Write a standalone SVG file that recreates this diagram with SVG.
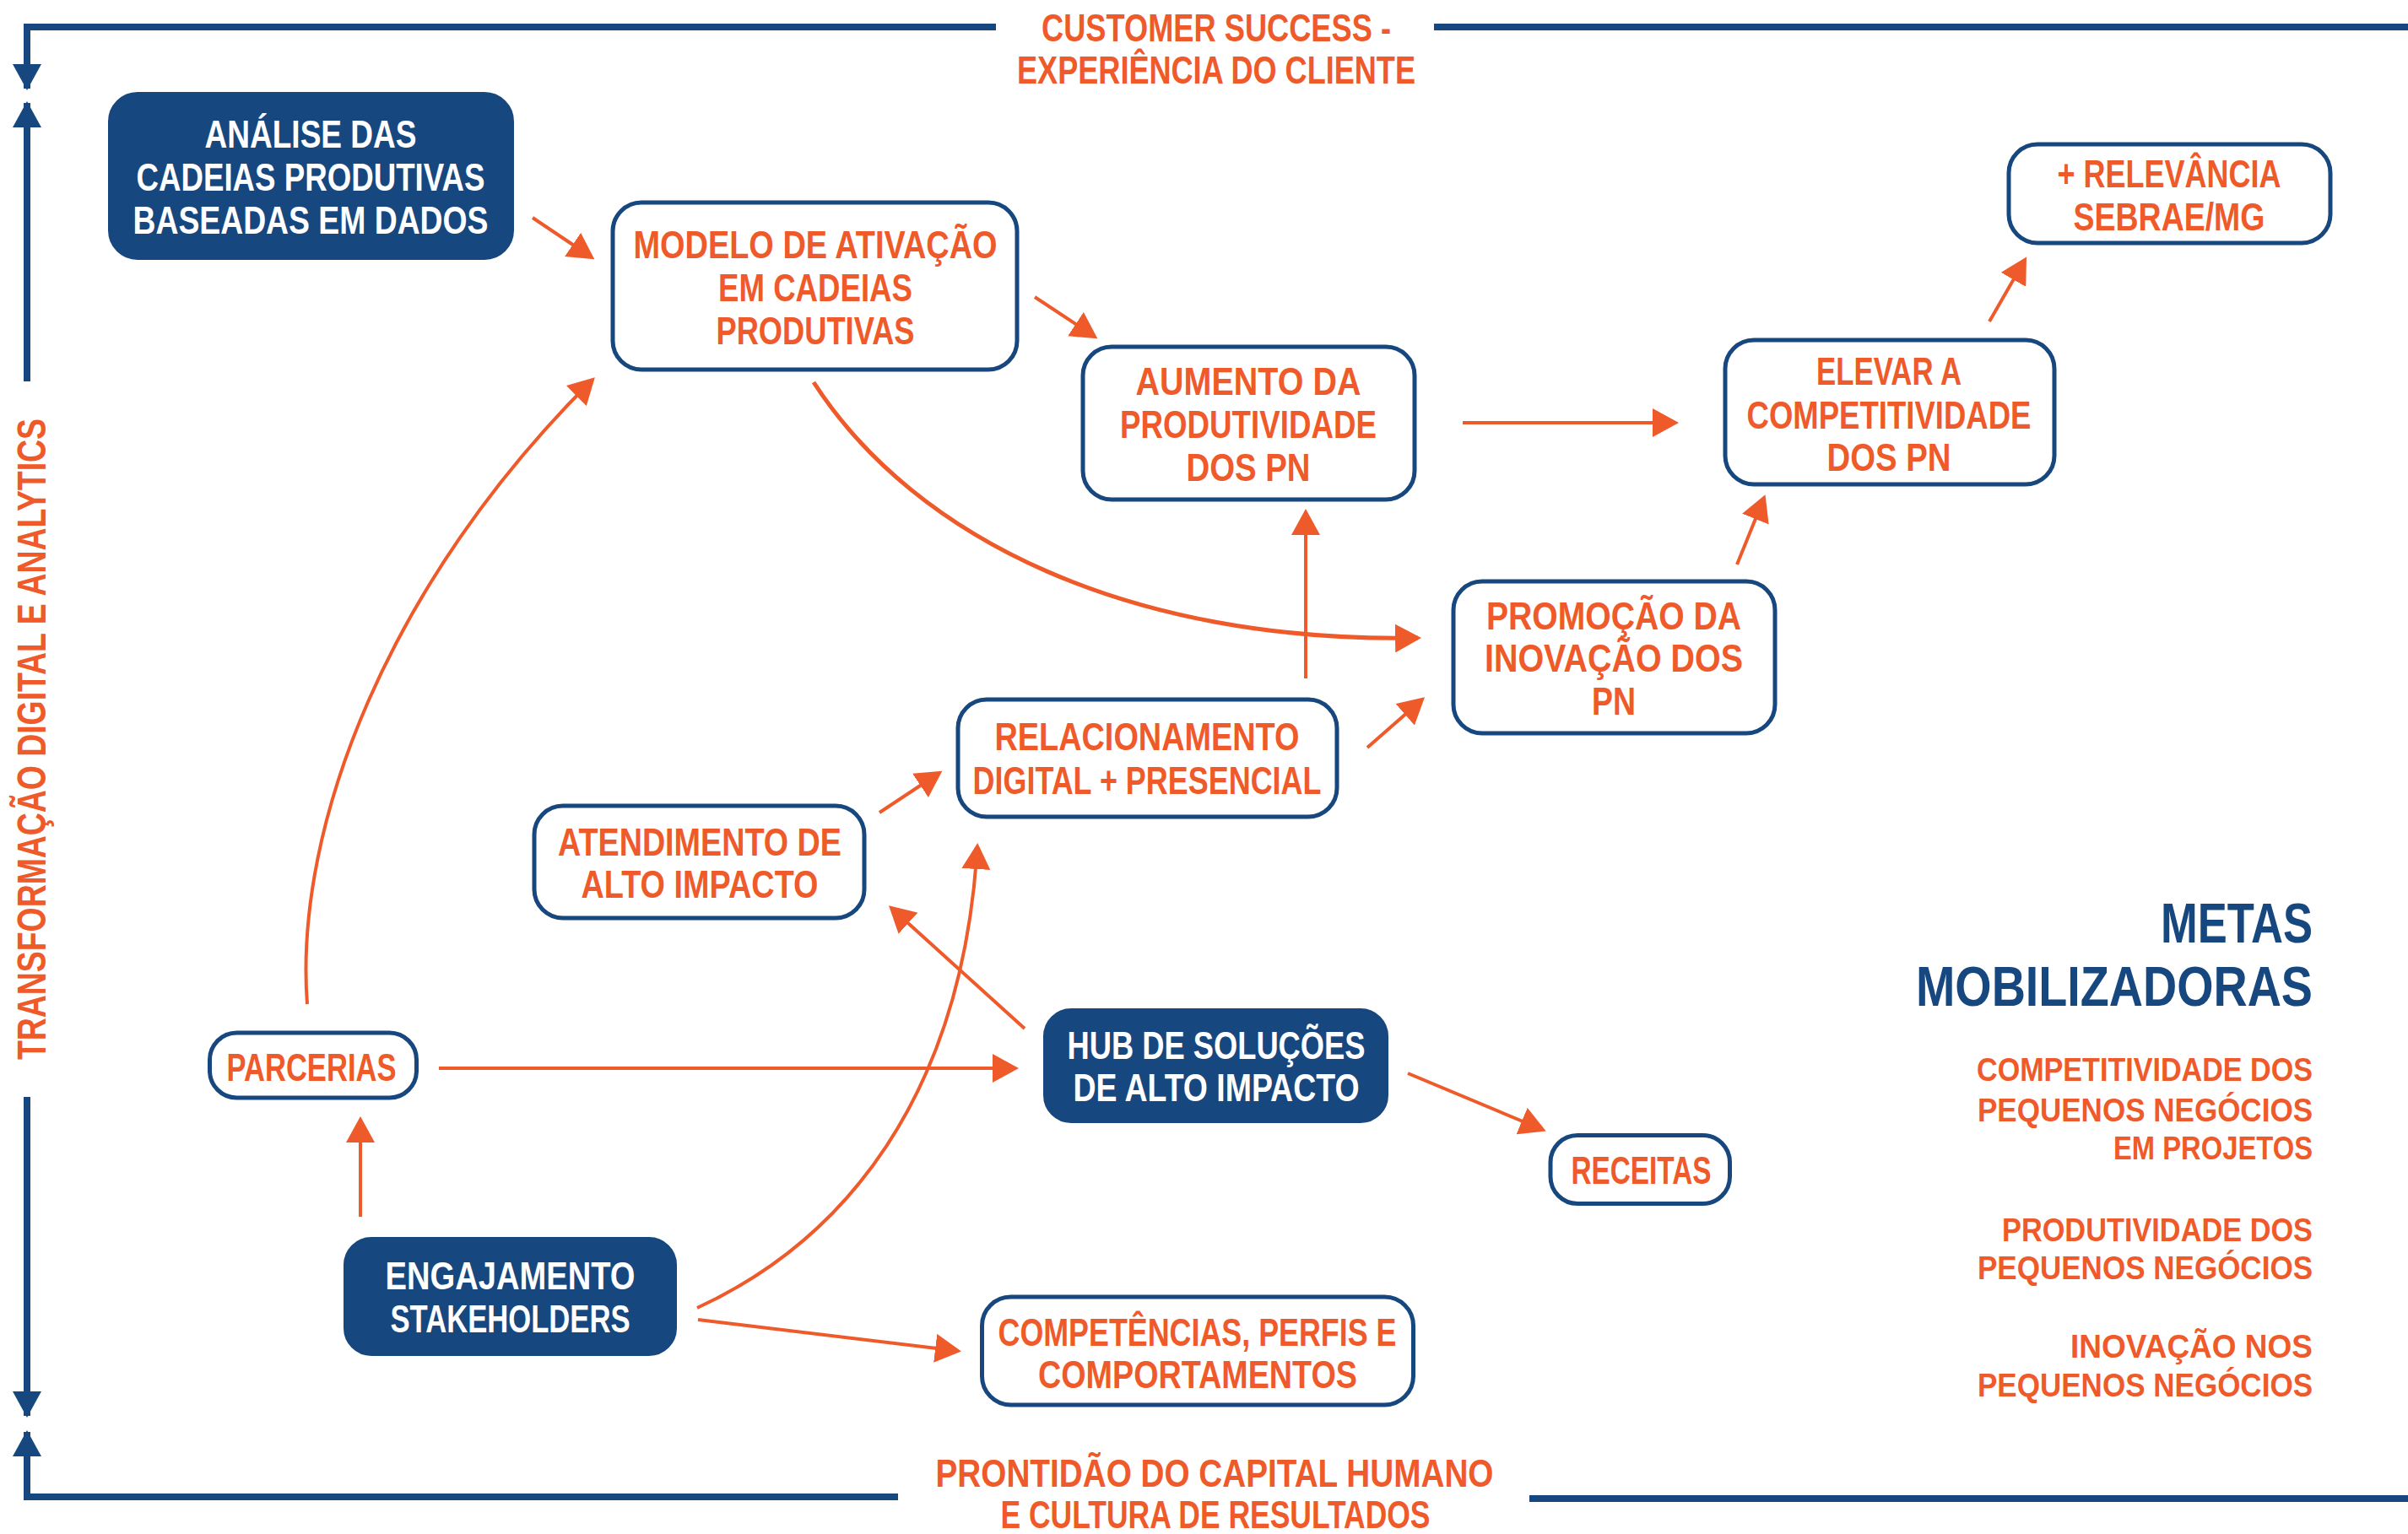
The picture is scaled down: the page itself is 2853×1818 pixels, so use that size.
<svg xmlns="http://www.w3.org/2000/svg" width="2853" height="1818" viewBox="0 0 2853 1818">
<style>
  .bg { fill: #ffffff; }
  .box { fill: #ffffff; stroke: #17477F; stroke-width: 5; }
  .boxf { fill: #17477F; stroke: #17477F; stroke-width: 2; }
  .t { font-family: "Liberation Sans", Arial, sans-serif; font-weight: bold; font-size: 46px; text-anchor: middle; fill: #EF5A2A; }
  .tw { font-family: "Liberation Sans", Arial, sans-serif; font-weight: bold; font-size: 46px; text-anchor: middle; fill: #ffffff; }
  .conn { fill: none; stroke: #EF5A2A; stroke-width: 4; marker-end: url(#ao); }
  .thick { stroke-width: 5; }
  .frame { fill: none; stroke: #17477F; stroke-width: 8; stroke-linejoin: miter; }
  .farrow { marker-end: url(#ab); }
  .side { font-family: "Liberation Sans", Arial, sans-serif; font-weight: bold; font-size: 49px; text-anchor: middle; fill: #EF5A2A; }
  .metas { font-family: "Liberation Sans", Arial, sans-serif; font-weight: bold; font-size: 67px; text-anchor: end; fill: #17477F; }
  .goal { font-family: "Liberation Sans", Arial, sans-serif; font-weight: bold; font-size: 39px; text-anchor: end; fill: #EF5A2A; }
</style>
<defs>
  <marker id="ao" markerUnits="userSpaceOnUse" markerWidth="32" markerHeight="34" refX="27" refY="17" orient="auto">
    <path d="M0,0 L31,17 L0,34 Z" fill="#EF5A2A"/>
  </marker>
  <marker id="ab" markerUnits="userSpaceOnUse" markerWidth="32" markerHeight="34" refX="29" refY="17" orient="auto">
    <path d="M0,0 L31,17 L0,34 Z" fill="#17477F"/>
  </marker>
</defs>
<rect class="bg" x="0" y="0" width="2853" height="1818"/>

<g id="frame">
  <path class="frame farrow" d="M1180,32 H32 V105"/>
  <path class="frame" d="M1699,32 H2853"/>
  <path class="frame farrow" d="M32,452 V122"/>
  <path class="frame farrow" d="M32,1300 V1678"/>
  <path class="frame farrow" d="M1064,1774 H32 V1697"/>
  <path class="frame" d="M1812,1776 H2853"/>
</g>

<g id="frame-labels">
  <text class="t" x="1441" y="49" textLength="414" lengthAdjust="spacingAndGlyphs">CUSTOMER SUCCESS -</text>
  <text class="t" x="1441" y="99" textLength="472" lengthAdjust="spacingAndGlyphs">EXPERIÊNCIA DO CLIENTE</text>
  <text class="t" x="1439" y="1762" textLength="661" lengthAdjust="spacingAndGlyphs">PRONTIDÃO DO CAPITAL HUMANO</text>
  <text class="t" x="1440" y="1811" textLength="509" lengthAdjust="spacingAndGlyphs">E CULTURA DE RESULTADOS</text>
  <text class="side" transform="translate(54,876) rotate(-90)" x="0" y="0" textLength="760" lengthAdjust="spacingAndGlyphs">TRANSFORMAÇÃO DIGITAL E ANALYTICS</text>
</g>

<g id="connectors">
  <path class="conn" d="M631,258 L701,305"/>
  <path class="conn" d="M1226,352 L1297,399"/>
  <path class="conn" d="M1733,501 L1985,501"/>
  <path class="conn" d="M2357,381 L2399,308"/>
  <path class="conn" d="M2058,669 L2090,590"/>
  <path class="conn thick" d="M964,453 C1085,640 1340,762 1680,756"/>
  <path class="conn" d="M1547,804 L1547,607"/>
  <path class="conn" d="M1620,886 L1685,829"/>
  <path class="conn" d="M1042,963 L1113,916"/>
  <path class="conn" d="M1214,1219 L1056,1076"/>
  <path class="conn" d="M520,1266 L1203,1266"/>
  <path class="conn" d="M364,1190 C348,980 460,690 702,450"/>
  <path class="conn" d="M427,1442 L427,1327"/>
  <path class="conn" d="M826,1550 C1000,1470 1140,1300 1158,1003"/>
  <path class="conn" d="M1668,1272 L1828,1339"/>
  <path class="conn" d="M827,1564 L1135,1601"/>
</g>

<g id="n-analise">
  <rect class="boxf" x="129" y="110" width="479" height="197" rx="34"/>
  <text class="tw" x="368" y="175" textLength="251" lengthAdjust="spacingAndGlyphs">ANÁLISE DAS</text>
  <text class="tw" x="368" y="226" textLength="413" lengthAdjust="spacingAndGlyphs">CADEIAS PRODUTIVAS</text>
  <text class="tw" x="368" y="277" textLength="421" lengthAdjust="spacingAndGlyphs">BASEADAS EM DADOS</text>
</g>

<g id="n-modelo">
  <rect class="box" x="726" y="240" width="479" height="198" rx="34"/>
  <text class="t" x="966" y="306" textLength="431" lengthAdjust="spacingAndGlyphs">MODELO DE ATIVAÇÃO</text>
  <text class="t" x="966" y="357" textLength="230" lengthAdjust="spacingAndGlyphs">EM CADEIAS</text>
  <text class="t" x="966" y="408" textLength="235" lengthAdjust="spacingAndGlyphs">PRODUTIVAS</text>
</g>

<g id="n-aumento">
  <rect class="box" x="1283" y="411" width="393" height="181" rx="34"/>
  <text class="t" x="1479" y="468" textLength="267" lengthAdjust="spacingAndGlyphs">AUMENTO DA</text>
  <text class="t" x="1479" y="519" textLength="304" lengthAdjust="spacingAndGlyphs">PRODUTIVIDADE</text>
  <text class="t" x="1479" y="570" textLength="147" lengthAdjust="spacingAndGlyphs">DOS PN</text>
</g>

<g id="n-elevar">
  <rect class="box" x="2044" y="403" width="390" height="171" rx="34"/>
  <text class="t" x="2238" y="456" textLength="172" lengthAdjust="spacingAndGlyphs">ELEVAR A</text>
  <text class="t" x="2238" y="508" textLength="337" lengthAdjust="spacingAndGlyphs">COMPETITIVIDADE</text>
  <text class="t" x="2238" y="558" textLength="147" lengthAdjust="spacingAndGlyphs">DOS PN</text>
</g>

<g id="n-relevancia">
  <rect class="box" x="2380" y="171" width="381" height="117" rx="34"/>
  <text class="t" x="2570" y="222" textLength="265" lengthAdjust="spacingAndGlyphs">+ RELEVÂNCIA</text>
  <text class="t" x="2570" y="273" textLength="227" lengthAdjust="spacingAndGlyphs">SEBRAE/MG</text>
</g>

<g id="n-promocao">
  <rect class="box" x="1722" y="689" width="381" height="180" rx="34"/>
  <text class="t" x="1912" y="746" textLength="302" lengthAdjust="spacingAndGlyphs">PROMOÇÃO DA</text>
  <text class="t" x="1912" y="796" textLength="306" lengthAdjust="spacingAndGlyphs">INOVAÇÃO DOS</text>
  <text class="t" x="1912" y="847" textLength="52" lengthAdjust="spacingAndGlyphs">PN</text>
</g>

<g id="n-relacionamento">
  <rect class="box" x="1135" y="829" width="449" height="139" rx="34"/>
  <text class="t" x="1359" y="889" textLength="361" lengthAdjust="spacingAndGlyphs">RELACIONAMENTO</text>
  <text class="t" x="1359" y="941" textLength="413" lengthAdjust="spacingAndGlyphs">DIGITAL + PRESENCIAL</text>
</g>

<g id="n-atendimento">
  <rect class="box" x="633" y="955" width="391" height="133" rx="34"/>
  <text class="t" x="829" y="1014" textLength="336" lengthAdjust="spacingAndGlyphs">ATENDIMENTO DE</text>
  <text class="t" x="829" y="1064" textLength="281" lengthAdjust="spacingAndGlyphs">ALTO IMPACTO</text>
</g>

<g id="n-parcerias">
  <rect class="box" x="248.5" y="1224" width="245" height="77" rx="32"/>
  <text class="t" x="369" y="1281" textLength="201" lengthAdjust="spacingAndGlyphs">PARCERIAS</text>
</g>

<g id="n-hub">
  <rect class="boxf" x="1237" y="1196" width="407" height="134" rx="32"/>
  <text class="tw" x="1441" y="1255" textLength="353" lengthAdjust="spacingAndGlyphs">HUB DE SOLUÇÕES</text>
  <text class="tw" x="1441" y="1305" textLength="339" lengthAdjust="spacingAndGlyphs">DE ALTO IMPACTO</text>
</g>

<g id="n-receitas">
  <rect class="box" x="1837" y="1345.5" width="212.5" height="81" rx="32"/>
  <text class="t" x="1944.5" y="1403" textLength="166" lengthAdjust="spacingAndGlyphs">RECEITAS</text>
</g>

<g id="n-engajamento">
  <rect class="boxf" x="408" y="1467" width="393" height="139" rx="32"/>
  <text class="tw" x="604.5" y="1528" textLength="296" lengthAdjust="spacingAndGlyphs">ENGAJAMENTO</text>
  <text class="tw" x="604.5" y="1579" textLength="284" lengthAdjust="spacingAndGlyphs">STAKEHOLDERS</text>
</g>

<g id="n-competencias">
  <rect class="box" x="1163.5" y="1537" width="511" height="128" rx="34"/>
  <text class="t" x="1418.5" y="1595" textLength="472" lengthAdjust="spacingAndGlyphs">COMPETÊNCIAS, PERFIS E</text>
  <text class="t" x="1419" y="1645" textLength="378" lengthAdjust="spacingAndGlyphs">COMPORTAMENTOS</text>
</g>

<g id="metas">
  <text class="metas" x="2740" y="1117" textLength="180" lengthAdjust="spacingAndGlyphs">METAS</text>
  <text class="metas" x="2740" y="1192" textLength="470" lengthAdjust="spacingAndGlyphs">MOBILIZADORAS</text>
  <text class="goal" x="2740" y="1281" textLength="398" lengthAdjust="spacingAndGlyphs">COMPETITIVIDADE DOS</text>
  <text class="goal" x="2740" y="1329" textLength="397" lengthAdjust="spacingAndGlyphs">PEQUENOS NEGÓCIOS</text>
  <text class="goal" x="2740" y="1374" textLength="236" lengthAdjust="spacingAndGlyphs">EM PROJETOS</text>
  <text class="goal" x="2740" y="1471" textLength="368" lengthAdjust="spacingAndGlyphs">PRODUTIVIDADE DOS</text>
  <text class="goal" x="2740" y="1516" textLength="397" lengthAdjust="spacingAndGlyphs">PEQUENOS NEGÓCIOS</text>
  <text class="goal" x="2740" y="1609" textLength="287" lengthAdjust="spacingAndGlyphs">INOVAÇÃO NOS</text>
  <text class="goal" x="2740" y="1655" textLength="397" lengthAdjust="spacingAndGlyphs">PEQUENOS NEGÓCIOS</text>
</g>
</svg>
